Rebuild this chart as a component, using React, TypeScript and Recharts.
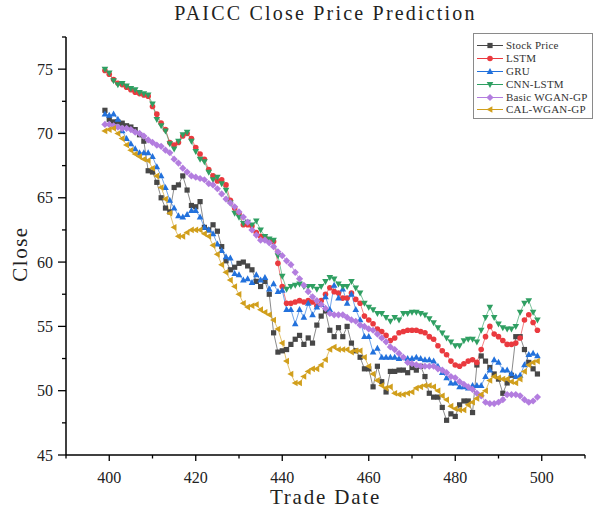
import { LineChart, Line, XAxis, YAxis, Legend, Label } from "recharts";

// trade dates run 399 .. 499, one value per day in each series
const firstDay = 399;

const stockPrice = [
  71.8, 71.1, 70.9, 70.9, 70.8, 70.6, 70.5, 70.3, 69.9, 69.4,
  67.1, 67.0, 66.2, 65.0, 64.2, 63.9, 65.8, 66.0, 66.7, 65.6,
  64.4, 64.3, 64.7, 62.7, 62.5, 62.9, 62.4, 61.2, 60.1, 59.4,
  59.6, 59.9, 60.0, 59.7, 59.4, 58.5, 58.1, 58.5, 57.5, 54.5,
  53.0, 53.1, 53.2, 53.6, 54.0, 54.3, 53.6, 54.1, 53.7, 55.1,
  55.8, 56.2, 54.7, 54.2, 54.9, 54.2, 55.0, 53.7, 53.1, 52.6,
  51.7, 51.7, 50.3, 51.9, 50.7, 49.9, 51.5, 51.5, 51.6, 51.6,
  51.4, 51.8, 51.6, 51.9, 51.1, 49.8, 49.5, 49.5, 48.7, 47.7,
  48.2, 48.0, 48.9, 49.2, 49.2, 48.3, 52.0, 52.7, 52.3, 51.8,
  51.3, 50.9, 49.8, 50.6, 51.2, 54.2, 54.2, 53.2, 52.2, 51.7,
  51.3,
];

const lstm = [
  74.9, 74.6, 74.2, 73.9, 73.8, 73.6, 73.4, 73.2, 73.1, 73.0,
  72.9, 72.1, 71.5, 70.8, 70.3, 69.3, 69.1, 69.3, 69.8, 70.0,
  69.6, 68.9, 68.4, 68.0, 67.2, 66.7, 66.3, 66.4, 66.0, 64.8,
  64.2, 63.8, 62.9, 62.9, 62.8, 62.3, 62.0, 61.9, 61.7, 61.6,
  59.9, 58.1, 56.8, 56.8, 56.9, 57.0, 56.9, 57.0, 56.9, 56.6,
  57.0, 57.5, 58.0, 57.7, 57.6, 57.2, 57.2, 57.6, 57.1, 56.8,
  55.8, 55.5, 55.2, 54.8, 54.6, 54.3, 53.9, 54.1, 54.5, 54.6,
  54.7, 54.7, 54.7, 54.6, 54.5, 54.2, 54.0, 53.5, 53.1, 52.8,
  52.3, 52.0, 51.9, 52.1, 52.3, 52.4, 52.2, 53.2, 54.2, 55.0,
  54.4, 54.2, 53.9, 53.6, 53.6, 53.7, 54.1, 55.5, 55.9, 55.3,
  54.7,
];

const gru = [
  71.5, 71.4, 71.5, 71.1, 70.2, 69.6, 69.2, 68.8, 68.5, 68.5,
  68.5, 68.2, 67.4, 66.7, 65.8, 64.8, 64.2, 63.6, 63.5, 63.7,
  64.0, 64.0, 63.5, 62.7, 62.5, 62.2, 61.4, 60.9, 60.4, 60.3,
  59.1, 59.0, 58.6, 58.7, 58.4, 59.0, 58.6, 58.8, 57.9, 58.3,
  57.7, 57.8, 56.3, 56.3, 55.2, 56.3, 55.7, 56.8, 55.9, 56.5,
  56.7, 57.3, 56.3, 58.2, 57.2, 57.9, 56.8, 57.5, 56.3, 55.5,
  54.2, 54.2, 53.0, 53.3, 52.6, 52.6, 52.6, 52.6, 52.5, 52.6,
  52.5, 52.5, 52.6, 52.5, 52.4, 52.4, 52.3, 51.9, 51.4, 51.0,
  50.6, 50.6, 50.3, 50.3, 50.2, 50.4, 50.4, 50.4, 51.1, 51.6,
  52.4, 52.2, 51.6, 51.6, 51.3, 51.1, 51.2, 52.0, 52.8, 52.9,
  52.7,
];

const cnnLstm = [
  75.0, 74.7, 74.1, 73.8, 73.9, 73.7, 73.5, 73.4, 73.2, 73.1,
  73.0, 72.3, 71.1, 70.6, 70.2, 69.2, 68.8, 69.4, 69.9, 70.1,
  69.4, 68.6, 68.0, 67.8, 67.0, 66.4, 66.6, 66.1, 65.6, 64.6,
  63.8, 63.5, 63.0, 63.1, 62.9, 63.2, 62.5, 62.0, 61.8, 61.7,
  60.5, 58.9, 57.9, 58.1, 58.2, 58.3, 58.1, 58.1, 58.1, 57.9,
  58.1, 58.5, 58.8, 58.7, 58.3, 58.1, 58.1, 58.5, 58.0, 57.6,
  56.8, 56.5, 56.3, 56.0, 56.0, 55.7, 55.4, 55.7, 55.5, 56.0,
  56.0, 56.1, 56.1, 56.0, 55.9, 55.6, 55.3, 54.9, 54.5, 54.1,
  53.8, 53.5, 53.5, 53.9, 54.0, 54.0, 53.8, 54.7, 55.7, 56.5,
  55.7, 55.2, 54.9, 54.8, 54.8, 55.0, 56.1, 56.8, 57.0, 56.1,
  55.5,
];

const basicWgan = [
  70.7, 70.7, 70.6, 70.5, 70.4, 70.4, 70.3, 70.1, 70.0, 69.8,
  69.5, 69.3, 69.1, 69.0, 68.7, 68.5, 68.0, 67.7, 67.3, 67.0,
  66.7, 66.6, 66.5, 66.4, 66.1, 66.0, 65.7, 65.3, 64.9, 64.6,
  64.3, 63.9, 63.5, 63.1, 62.5, 62.1, 61.7, 61.7, 61.5, 61.2,
  60.8, 60.5, 60.1, 59.8, 59.2, 58.7, 58.2, 57.7, 57.3, 57.0,
  56.7, 56.4, 56.0, 55.9, 55.9, 55.9, 55.7, 55.5, 55.4, 55.1,
  55.0, 54.8, 54.7, 54.4, 54.1, 53.8, 53.4, 53.2, 52.9, 52.6,
  52.2, 52.1, 52.0, 51.9, 51.9, 51.9, 51.9, 51.7, 51.6, 51.4,
  51.1, 51.0, 50.7, 50.5, 50.3, 50.1, 49.8, 49.6, 49.1, 49.0,
  49.0, 49.1, 49.3, 49.7, 49.7, 49.7, 49.6, 49.3, 49.1, 49.2,
  49.5,
];

const calWgan = [
  70.2, 70.3, 70.4, 70.0, 69.6, 69.1, 68.7, 68.4, 68.2, 68.0,
  67.9, 67.3, 66.7, 65.8, 64.9, 63.8, 62.7, 62.0, 62.0, 62.3,
  62.5, 62.5, 62.5, 62.2, 62.0, 61.3, 60.6, 59.8, 59.2, 58.6,
  58.1, 57.5, 56.8, 56.5, 56.6, 56.7, 56.3, 56.1, 55.9, 55.5,
  54.8, 53.7, 52.3, 51.3, 50.6, 50.6, 51.1, 51.5, 51.7, 51.7,
  52.0, 52.4, 53.2, 53.4, 53.2, 53.2, 53.2, 53.0, 53.1, 53.1,
  52.6, 51.9, 51.3, 50.8, 50.4, 50.2, 50.3, 49.8, 49.7, 49.7,
  49.8, 49.9, 50.2, 50.3, 50.4, 50.4, 50.3, 50.0, 49.6, 49.3,
  48.8, 48.6, 48.5, 48.5, 48.9, 49.1, 49.4, 49.7, 50.0, 50.8,
  51.1, 51.0, 50.9, 50.9, 50.7, 50.6, 50.9, 51.5, 52.0, 52.2,
  52.3,
];

const xTicks = [390, 400, 410, 420, 430, 440, 450, 460, 470, 480, 490, 500, 510];
const yTicks = [45, 47.5, 50, 52.5, 55, 57.5, 60, 62.5, 65, 67.5, 70, 72.5, 75, 77.5];

type Shape = "square" | "circle" | "up" | "down" | "diamond" | "left";

const series: { key: string; name: string; color: string; shape: Shape }[] = [
  { key: "stock", name: "Stock Price", color: "#474747", shape: "square" },
  { key: "lstm", name: "LSTM", color: "#ea3a3f", shape: "circle" },
  { key: "gru", name: "GRU", color: "#2271dc", shape: "up" },
  { key: "cnnLstm", name: "CNN-LSTM", color: "#2f9f62", shape: "down" },
  { key: "basicWgan", name: "Basic WGAN-GP", color: "#b37ddf", shape: "diamond" },
  { key: "calWgan", name: "CAL-WGAN-GP", color: "#d19f1c", shape: "left" },
];

const data = stockPrice.map((v, i) => ({
  day: firstDay + i,
  stock: v,
  lstm: lstm[i],
  gru: gru[i],
  cnnLstm: cnnLstm[i],
  basicWgan: basicWgan[i],
  calWgan: calWgan[i],
}));

const FONT = "'Liberation Serif', 'DejaVu Serif', serif";

function Marker({ cx, cy, shape, color }: { cx: number; cy: number; shape: Shape; color: string }) {
  switch (shape) {
    case "square":
      return <rect x={cx - 2.6} y={cy - 2.6} width={5.2} height={5.2} fill={color} />;
    case "circle":
      return <circle cx={cx} cy={cy} r={2.8} fill={color} />;
    case "up":
      return <polygon points={`${cx},${cy - 3.6} ${cx - 3.3},${cy + 2.4} ${cx + 3.3},${cy + 2.4}`} fill={color} />;
    case "down":
      return <polygon points={`${cx},${cy + 3.6} ${cx - 3.3},${cy - 2.4} ${cx + 3.3},${cy - 2.4}`} fill={color} />;
    case "diamond":
      return <polygon points={`${cx},${cy - 3.6} ${cx + 3.6},${cy} ${cx},${cy + 3.6} ${cx - 3.6},${cy}`} fill={color} />;
    default:
      return <polygon points={`${cx - 3.6},${cy} ${cx + 2.4},${cy - 3.3} ${cx + 2.4},${cy + 3.3}`} fill={color} />;
  }
}

const XTick = (props: any) => {
  const { x, y, payload } = props;
  const major = payload.value % 20 === 0;
  return (
    <g>
      <line x1={x} y1={y} x2={x} y2={y + (major ? 6 : 3.5)} stroke="#000" strokeWidth={1.3} />
      {major && (
        <text x={x} y={y + 28} textAnchor="middle" fontSize={16} fontFamily={FONT} fill="#222">
          {payload.value}
        </text>
      )}
    </g>
  );
};

const YTick = (props: any) => {
  const { x, y, payload } = props;
  const major = payload.value % 5 === 0;
  return (
    <g>
      <line x1={x} y1={y} x2={x - (major ? 8 : 4)} y2={y} stroke="#000" strokeWidth={1.3} />
      {major && (
        <text x={x - 13} y={y + 5.5} textAnchor="end" fontSize={16} fontFamily={FONT} fill="#222">
          {payload.value}
        </text>
      )}
    </g>
  );
};

const LegendBox = () => (
  <div
    style={{
      border: "1px solid #8a8a8a",
      background: "#fff",
      width: 118,
      padding: "5px 0 2px 0",
      fontFamily: FONT,
      fontSize: 11,
      letterSpacing: 0.2,
      color: "#333",
    }}
  >
    {series.map((s) => (
      <div key={s.key} style={{ display: "flex", alignItems: "center", height: 12.9 }}>
        <svg width={32} height={13} style={{ flex: "none" }}>
          <line x1={3} y1={6.5} x2={29} y2={6.5} stroke={s.color} strokeWidth={1} />
          <Marker cx={16} cy={6.5} shape={s.shape} color={s.color} />
        </svg>
        <span style={{ whiteSpace: "nowrap", lineHeight: "13px" }}>{s.name}</span>
      </div>
    ))}
  </div>
);

export default function App() {
  return (
    <div style={{ position: "absolute", left: 0, top: 0, width: 597, height: 510, background: "#fff", overflow: "hidden" }}>
      <div
        style={{
          position: "absolute",
          left: 0,
          top: 0,
          width: 651,
          textAlign: "center",
          fontFamily: FONT,
          fontSize: 20,
          letterSpacing: 2.2,
          lineHeight: "26px",
          color: "#222",
        }}
      >
        PAICC Close Price Prediction
      </div>
      <LineChart width={597} height={510} data={data} margin={{ top: 37, right: 12, bottom: 0, left: 10 }}>
        <XAxis
          dataKey="day"
          type="number"
          domain={[390, 510]}
          ticks={xTicks}
          interval={0}
          tickSize={0}
          tickMargin={0}
          tickLine={false}
          tick={<XTick />}
          height={55}
          axisLine={{ stroke: "#000", strokeWidth: 1.5 }}
        >
          <Label
            content={(p: any) => {
              const vb = p.viewBox;
              return (
                <text x={vb.x + vb.width / 2} y={vb.y + 49} textAnchor="middle" fontSize={21} letterSpacing={1.8} fontFamily={FONT} fill="#222">
                  Trade Date
                </text>
              );
            }}
          />
        </XAxis>
        <YAxis
          type="number"
          domain={[45, 77.5]}
          ticks={yTicks}
          interval={0}
          tickSize={0}
          tickMargin={0}
          tickLine={false}
          tick={<YTick />}
          width={56}
          axisLine={{ stroke: "#000", strokeWidth: 1.5 }}
        >
          <Label
            content={(p: any) => {
              const vb = p.viewBox;
              const cy = vb.y + vb.height / 2 + 8;
              return (
                <text x={27} y={cy} transform={`rotate(-90 27 ${cy})`} textAnchor="middle" fontSize={21} letterSpacing={1.5} fontFamily={FONT} fill="#222">
                  Close
                </text>
              );
            }}
          />
        </YAxis>
        <Legend
          layout="vertical"
          align="center"
          verticalAlign="middle"
          wrapperStyle={{ left: 473, top: 33, width: 120 }}
          content={() => <LegendBox />}
        />
        {series.map((s) => (
          <Line
            key={s.key}
            dataKey={s.key}
            name={s.name}
            type="linear"
            stroke={s.color}
            strokeWidth={0.8}
            strokeOpacity={0.8}
            isAnimationActive={false}
            activeDot={false}
            dot={(p: any) => <Marker key={`${s.key}-${p.index}`} cx={p.cx} cy={p.cy} shape={s.shape} color={s.color} />}
          />
        ))}
      </LineChart>
    </div>
  );
}
